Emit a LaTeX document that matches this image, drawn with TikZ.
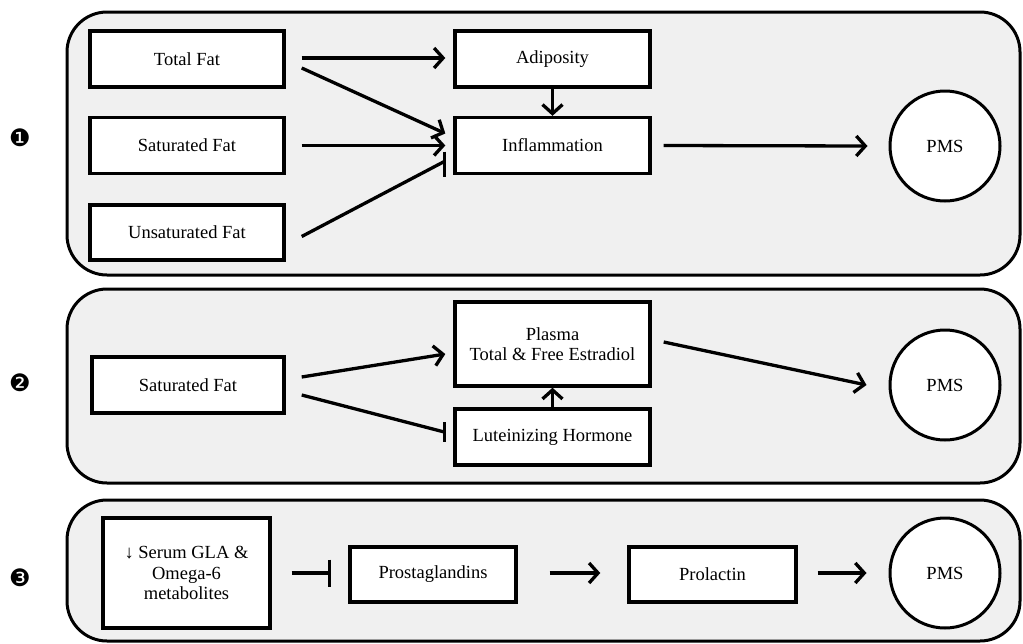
\documentclass[tikz,border=0pt]{standalone}
\usepackage{fontspec}
\setmainfont{Liberation Serif}
\newfontfamily\numfont{DejaVu Sans}
\usetikzlibrary{arrows.meta,calc}
\definecolor{panelgray}{HTML}{F0F0F0}
\tikzset{
  panel/.style={draw=black, line width=3pt, fill=panelgray, rounded corners=40pt},
  box/.style={draw=black, line width=3.4pt, fill=white, rectangle, inner sep=0pt,
    font=\fontsize{18.5}{20.5}\selectfont, align=center},
  pmsnode/.style={draw=black, line width=3pt, fill=white, circle, minimum size=110pt,
    inner sep=0pt, font=\fontsize{18.5}{20.5}\selectfont},
  conn/.style={line width=3.3pt, -{Straight Barb[length=9pt,width=20pt]}},
  inhib/.style={line width=3.3pt},
  tbar/.style={line width=3.3pt},
  num/.style={font=\numfont\fontsize{24}{24}\selectfont, inner sep=0pt}
}
\begin{document}
\begin{tikzpicture}[x=1pt,y=-1pt]
\useasboundingbox (0,0) rectangle (1023,643);
% panels
\path[panel] (67,12) rectangle (1020,275);
\path[panel] (67,289) rectangle (1020,483);
\path[panel] (67,500) rectangle (1020,641);
% numbers
\node[num] (n1) at (20,138) {❶};
\node[num] (n2) at (20,383) {❷};
\node[num] (n3) at (20,578) {❸};
% panel 1
\node[box, minimum width=194pt, minimum height=56pt] (tf) at (187,59) {Total Fat};
\node[box, minimum width=194pt, minimum height=56pt] (sf1) at (187,145.5) {Saturated Fat};
\node[box, minimum width=194pt, minimum height=55pt] (uf) at (187,232.5) {Unsaturated Fat};
\node[box, minimum width=195pt, minimum height=56pt] (adi) at (552.5,59) {Adiposity};
\node[box, minimum width=195pt, minimum height=56pt] (inf) at (552.5,145.5) {Inflammation};
\node[pmsnode] (pms1) at (945,146) {PMS};
\draw[conn] ($(tf.east)+(16,-1)$) -- ($(adi.west)+(-8,-1)$);
\draw[conn] ($(tf.east)+(16,9)$) -- ($(inf.west)+(-8,-12)$);
\draw[conn] ($(sf1.east)+(16,0)$) -- ($(inf.west)+(-8,0)$);
\coordinate (i1) at ($(inf.west)+(-9,16)$);
\draw[inhib] ($(uf.east)+(16,4)$) -- (i1);
\draw[tbar] ($(i1)+(0,-10)$) -- ($(i1)+(0,15)$);
\draw[conn] (adi.south) -- (inf.north);
\draw[conn] ($(inf.east)+(12,0)$) -- ($(pms1.west)+(-21,0)$);
% panel 2
\node[box, minimum width=192pt, minimum height=56pt] (sf2) at (188,385) {Saturated Fat};
\node[box, minimum width=195pt, minimum height=84pt] (pla) at (552.5,344) {Plasma\\Total \& Free Estradiol};
\node[box, minimum width=195pt, minimum height=56pt] (lh) at (552.5,437) {Luteinizing Hormone};
\node[pmsnode] (pms2) at (945,385) {PMS};
\draw[conn] ($(sf2.east)+(16,-8)$) -- ($(pla.west)+(-8,10)$);
\coordinate (i2) at ($(lh.west)+(-9,-5)$);
\draw[inhib] ($(sf2.east)+(16,10)$) -- (i2);
\draw[tbar] ($(i2)+(0,-10)$) -- ($(i2)+(0,10)$);
\draw[conn] (lh.north) -- (pla.south);
\draw[conn] ($(pla.east)+(12,-2)$) -- ($(pms2.west)+(-22,0)$);
% panel 3
\node[box, minimum width=167pt, minimum height=110pt] (gla) at (186.5,573) {↓ Serum GLA \&\\Omega-6\\metabolites};
\node[box, minimum width=166pt, minimum height=55pt] (pro) at (433,574.5) {Prostaglandins};
\node[box, minimum width=167pt, minimum height=55pt] (prl) at (712.5,574.5) {Prolactin};
\node[pmsnode] (pms3) at (945,573) {PMS};
\draw[line width=3.3pt, -{Bar[width=27pt,line width=3.3pt]}] ($(gla.east)+(20,0)$) -- ($(pro.west)+(-17,-1.5)$);
\draw[conn] ($(pro.east)+(32,-1.5)$) -- ($(prl.west)+(-27,-1.5)$);
\draw[conn] ($(prl.east)+(20,-1.5)$) -- ($(pms3.west)+(-22,0)$);
\end{tikzpicture}
\end{document}
